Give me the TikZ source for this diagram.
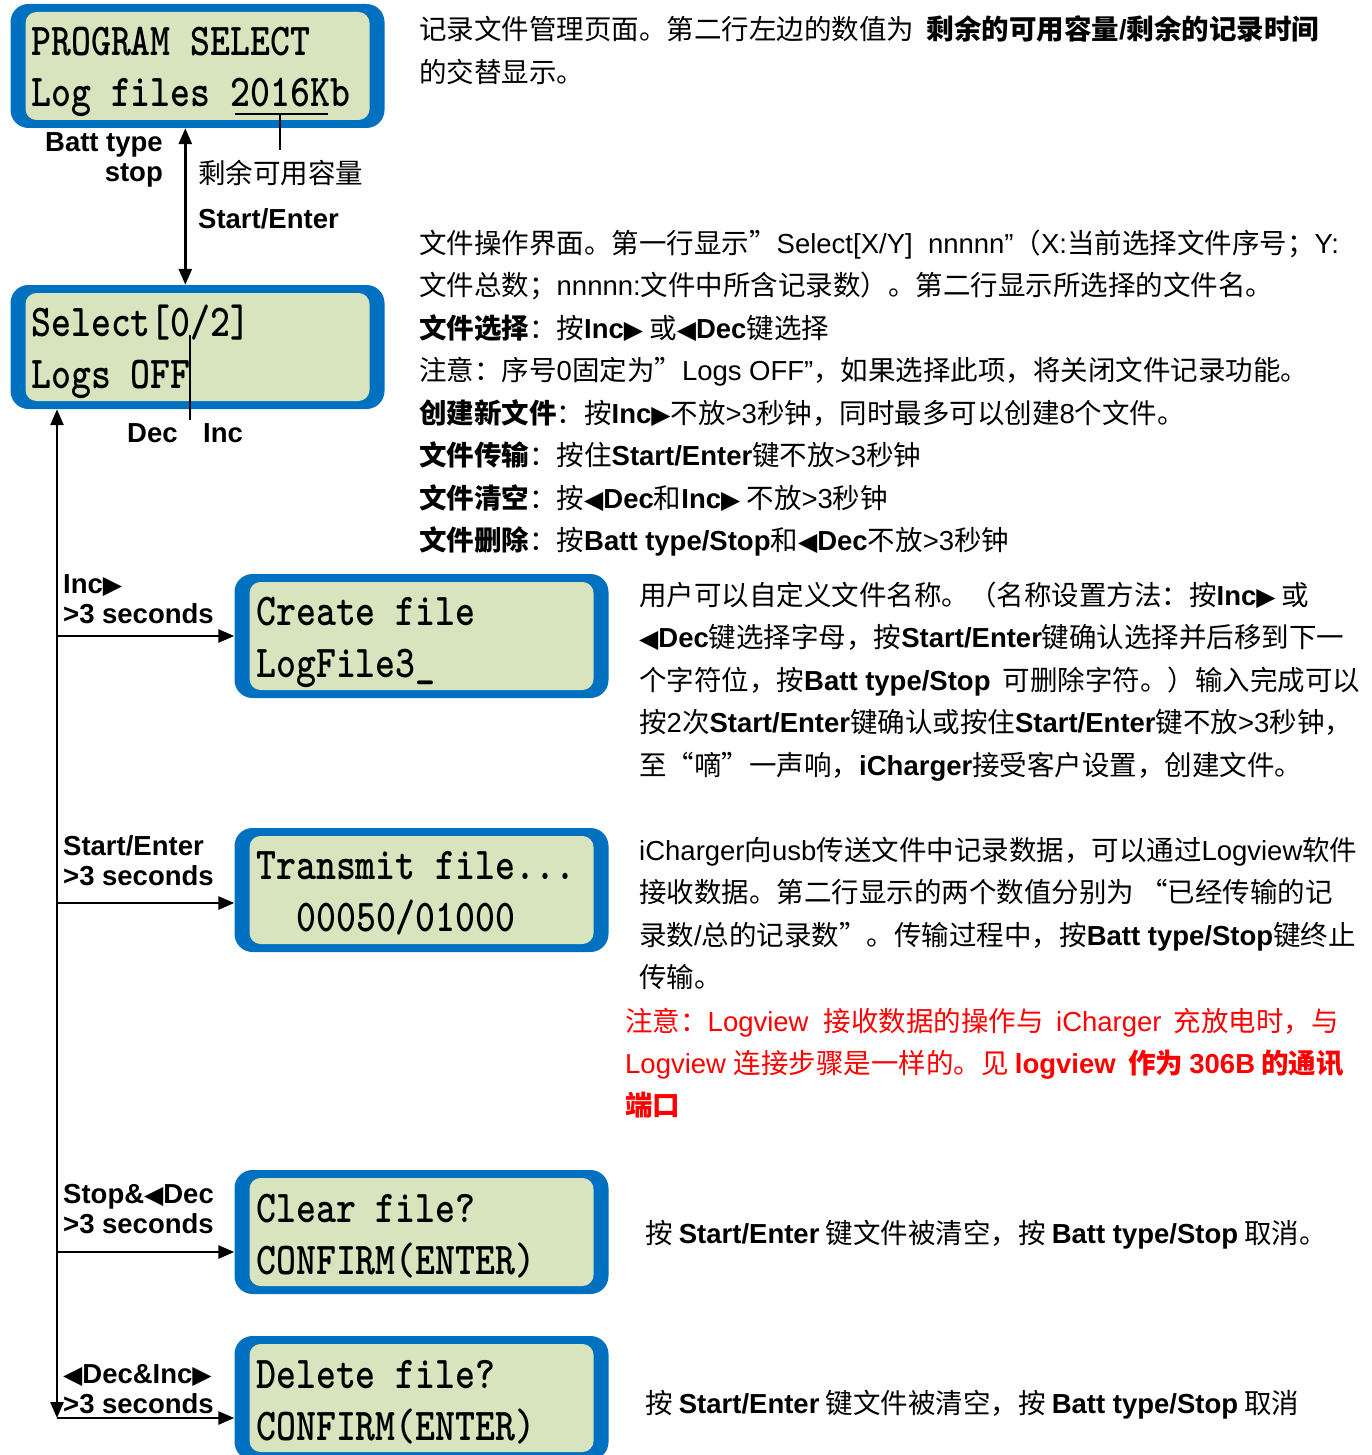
\documentclass[tikz,border=0pt]{standalone}
\usepackage{graphicx}
\usepackage{fontspec}
\setmainfont{Liberation Sans}
\newfontfamily\cjk{Noto Sans CJK SC}
\newfontfamily\trifont{DejaVu Sans}
\usetikzlibrary{arrows.meta,positioning}

\definecolor{lcdblue}{HTML}{0070C0}
\definecolor{lcdgreen}{HTML}{D7E4BD}

% switch to the CJK font for Chinese characters
\XeTeXinterchartokenstate=1
\newXeTeXintercharclass\cjkclass
\newXeTeXintercharclass\triclass
\newXeTeXintercharclass\quoteclass
\newcommand\cjkrange[2]{\count255=#1\relax
  \loop\XeTeXcharclass\count255=\cjkclass\relax
  \ifnum\count255<#2\relax\advance\count255 by 1\relax\repeat}
\cjkrange{"3000}{"303F}
\cjkrange{"4E00}{"9FFF}
\cjkrange{"FF00}{"FFEF}
\XeTeXcharclass"25B6=\triclass
\XeTeXcharclass"25C0=\triclass
\XeTeXcharclass"201C=\quoteclass
\XeTeXcharclass"201D=\quoteclass
\XeTeXinterchartoks 0 \cjkclass={\cjk}
\XeTeXinterchartoks 4095 \cjkclass={\cjk}
\XeTeXinterchartoks \cjkclass \cjkclass={\cjk}
\XeTeXinterchartoks \triclass \cjkclass={\cjk}
\XeTeXinterchartoks \quoteclass \cjkclass={\cjk}
\XeTeXinterchartoks \cjkclass 0={\rmfamily}
\XeTeXinterchartoks \triclass 0={\rmfamily}
\XeTeXinterchartoks \quoteclass 0={\rmfamily}

\newcommand\rtri{{\trifont\fontsize{25}{25}\selectfont ▶}}
\newcommand\ltri{{\trifont\fontsize{25}{25}\selectfont ◀}}
\newcommand\keyname[1]{{\bfseries\rmfamily #1}}
\newcommand\eng[1]{{\rmfamily #1}}
\newcommand\lcd[1]{\scalebox{1}[1.2]{#1}}

\begin{document}
\begin{tikzpicture}[
  x=1pt, y=-1pt,
  frame/.style={fill=lcdblue, rounded corners=18pt, inner sep=0pt,
    minimum width=374pt, minimum height=124pt},
  face/.style={fill=lcdgreen, rounded corners=11pt, inner sep=0pt,
    minimum width=344pt, minimum height=108pt},
  lcdtext/.style={anchor=base west, inner sep=0pt,
    font=\ttfamily\bfseries\fontsize{38}{38}\selectfont},
  keytext/.style={anchor=base west, inner sep=0pt, align=left,
    font=\bfseries\fontsize{27.5}{30}\selectfont},
  notetext/.style={anchor=base west, inner sep=0pt, align=left,
    font=\fontsize{27.5}{42.5}\selectfont},
  flow/.style={-{Triangle[length=16pt,width=13pt]}, line width=2.8pt},
  twoway/.style={{Triangle[length=16pt,width=13pt]}-{Triangle[length=16pt,width=13pt]}, line width=2.8pt},
  pointer/.style={line width=1.4pt}
]
\useasboundingbox (0,0) rectangle (1371,1455);
\clip (0,0) rectangle (1371,1455);

% LCD screens
\node[frame] (topframe) at (197.5,66) {};
\node[face] (topface) at (topframe.center) {};
\node[frame] (selframe) at (197.5,347) {};
\node[face] (selface) at (selframe.center) {};
\node[frame] (newframe) at (421.5,636) {};
\node[face] (newface) at (newframe.center) {};
\node[frame] (sendframe) at (421.5,890) {};
\node[face] (sendface) at (sendframe.center) {};
\node[frame] (clearframe) at (421.5,1232) {};
\node[face] (clearface) at (clearframe.center) {};
\node[frame] (delframe) at (421.5,1398) {};
\node[face] (delface) at (delframe.center) {};

% Screen texts
\node[lcdtext] (top1) at (31,56) {\lcd{PROGRAM SELECT}};
\node[lcdtext] (top2) at (31,107) {\lcd{Log files 2016Kb}};
\node[lcdtext] (sel1) at (31,336) {\lcd{Select[0/2]}};
\node[lcdtext] (sel2) at (31,388) {\lcd{Logs OFF}};
\node[lcdtext] (new1) at (256,625) {\lcd{Create file}};
\node[lcdtext] (new2) at (256,677) {\lcd{LogFile3\_}};
\node[lcdtext] (send1) at (256,879) {\lcd{Transmit file...}};
\node[lcdtext] (send2) at (296,931) {\lcd{00050/01000}};
\node[lcdtext] (clear1) at (256,1222) {\lcd{Clear file?}};
\node[lcdtext] (clear2) at (256,1274) {\lcd{CONFIRM(ENTER)}};
\node[lcdtext] (del1) at (256,1388) {\lcd{Delete file?}};
\node[lcdtext] (del2) at (256,1440) {\lcd{CONFIRM(ENTER)}};

% Marks on the screens
\coordinate (capleft) at (235,114);
\coordinate (capright) at (328,114);
\coordinate (captip) at (280,150);
\draw[pointer] (capleft) -- (capright);
\draw[pointer] (capleft -| captip) -- (captip);
\coordinate (selmark) at (190,335);
\coordinate (seltip) at (190,420);
\draw[pointer] (selmark) -- (seltip);

% Keys (base = last line)
\node[keytext, anchor=base east, align=right] (battlbl) at (163,182) {Batt type\\stop};
\node[notetext] (caplbl) at (198,184) {剩余可用容量};
\node[keytext] (startlbl) at (198,229) {Start/Enter};
\node[keytext] (declbl) at (127,442) {Dec};
\node[keytext] (inclbl) at (203,442) {Inc};
\node[keytext] (newlbl) at (63,623) {Inc\rtri\\>3 seconds};
\node[keytext] (sendlbl) at (63,885) {Start/Enter\\>3 seconds};
\node[keytext] (clearlbl) at (63,1233) {Stop\&\ltri Dec\\>3 seconds};
\node[keytext] (dellbl) at (63,1413) {\ltri Dec\&Inc\rtri\\>3 seconds};

% Connectors
\draw[twoway] ([xshift=175pt]topframe.south west) -- ([xshift=175pt]selframe.north west);
\coordinate (trunkend) at (57,1418);
\coordinate (sendin) at ([yshift=-13pt]sendframe.west);
\coordinate (clearin) at ([yshift=-20pt]clearframe.west);
\coordinate (delin) at ([yshift=-20pt]delframe.west);
\draw[twoway] (trunkend) -- (trunkend |- selframe.south);
\draw[flow] (trunkend |- newframe.west) -- (newframe.west);
\draw[flow] (trunkend |- sendin) -- (sendin);
\draw[flow] (trunkend |- clearin) -- (clearin);
\draw[flow] (trunkend |- delin) -- (delin);

% Notes (base = last line)
\node[notetext] (notea) at (419,82.5) {记录文件管理页面。第二行左边的数值为\ \ {\bfseries 剩余的可用容量/剩余的记录时间}\\
的交替显示。};
\node[notetext] (noteb) at (419,550.5) {文件操作界面。第一行显示”Select[X/Y]\ \ nnnnn”（X:当前选择文件序号；Y:\\
文件总数；nnnnn:文件中所含记录数）。第二行显示所选择的文件名。\\
{\bfseries 文件选择}：按\keyname{Inc}\rtri{}\ 或\ltri\keyname{Dec}键选择\\
注意：序号0固定为”Logs OFF”，如果选择此项，将关闭文件记录功能。\\
{\bfseries 创建新文件}：按\keyname{Inc}\rtri 不放>3秒钟，同时最多可以创建8个文件。\\
{\bfseries 文件传输}：按住\keyname{Start/Enter}键不放>3秒钟\\
{\bfseries 文件清空}：按\ltri\keyname{Dec}和\keyname{Inc}\rtri{}\ 不放>3秒钟\\
{\bfseries 文件删除}：按\keyname{Batt type/Stop}和\ltri\keyname{Dec}不放>3秒钟};
\node[notetext] (notec) at (639,775) {用户可以自定义文件名称。（名称设置方法：按\keyname{Inc}\rtri{}\ 或\\
\ltri\keyname{Dec}键选择字母，按\keyname{Start/Enter}键确认选择并后移到下一\\
个字符位，按\keyname{Batt type/Stop}\ \ 可删除字符。）输入完成可以\\
按2次\keyname{Start/Enter}键确认或按住\keyname{Start/Enter}键不放>3秒钟，\\
至“嘀”一声响，\keyname{iCharger}接受客户设置，创建文件。};
\node[notetext] (noted) at (639,987.5) {iCharger向usb传送文件中记录数据，可以通过Logview软件\\
接收数据。第二行显示的两个数值分别为\ “已经传输的记\\
录数/总的记录数”。传输过程中，按\keyname{Batt type/Stop}键终止\\
传输。};
\node[notetext, text=red, font=\fontsize{27.5}{42}\selectfont] (notered) at (625,1115) {注意：Logview\ \ 接收数据的操作与\ \ \eng{iCharger}\ \ 充放电时，与\\
Logview 连接步骤是一样的。见 \keyname{logview}\ \ {\bfseries 作为 \eng{306B} 的通讯}\\
{\bfseries 端口}};
\node[notetext] (notee) at (645,1243) {按 \keyname{Start/Enter} 键文件被清空，按 \keyname{Batt type/Stop} 取消。};
\node[notetext] (notef) at (645,1413) {按 \keyname{Start/Enter} 键文件被清空，按 \keyname{Batt type/Stop} 取消};

\end{tikzpicture}
\end{document}
